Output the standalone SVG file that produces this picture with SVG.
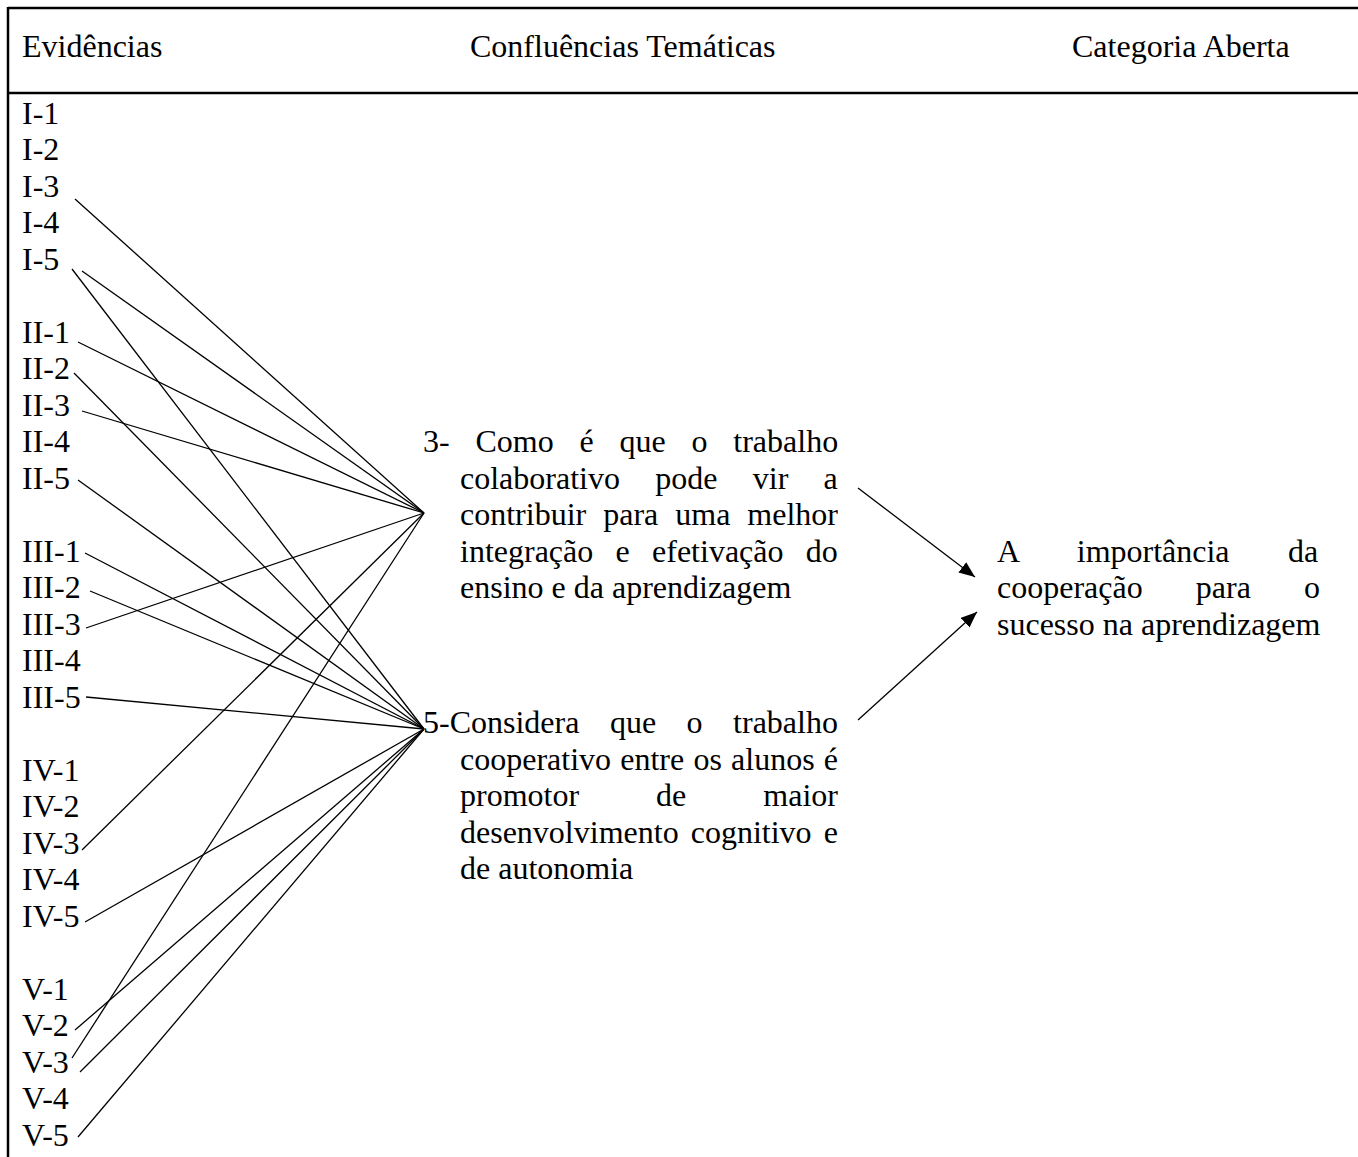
<svg xmlns="http://www.w3.org/2000/svg" width="1358" height="1157" viewBox="0 0 1358 1157">
<style>
text{font-family:"Liberation Serif","Times New Roman",serif;font-size:32px;fill:#000}
.frame{stroke:#000;stroke-width:2.5;fill:none}
.c{stroke:#000;stroke-width:1.3;fill:none}
.a{stroke:#000;stroke-width:1.3;fill:none;marker-end:url(#ah)}
</style>
<defs>
<marker id="ah" markerUnits="userSpaceOnUse" markerWidth="17" markerHeight="14" refX="16" refY="6.5" orient="auto">
<path d="M0,0 L16,6.5 L0,13 z" fill="#000"/>
</marker>
</defs>
<rect width="1358" height="1157" fill="#fff"/>
<g id="frame">
<line class="frame" x1="8" y1="8" x2="1358" y2="8"/>
<line class="frame" x1="8" y1="93" x2="1358" y2="93"/>
<line class="frame" x1="8" y1="7" x2="8" y2="1157"/>
</g>
<g id="header">
<text x="22" y="57">Evidências</text>
<text x="470" y="57">Confluências Temáticas</text>
<text x="1072" y="57">Categoria Aberta</text>
</g>
<g id="connectors">
<line class="c" x1="75" y1="199" x2="424" y2="513"/>
<line class="c" x1="82" y1="271" x2="424" y2="513"/>
<line class="c" x1="78" y1="342" x2="424" y2="513"/>
<line class="c" x1="82" y1="411" x2="424" y2="513"/>
<line class="c" x1="86" y1="628" x2="424" y2="513"/>
<line class="c" x1="82" y1="850" x2="424" y2="513"/>
<line class="c" x1="72" y1="1058" x2="424" y2="513"/>
<line class="c" x1="72" y1="269" x2="424" y2="729"/>
<line class="c" x1="74" y1="373" x2="424" y2="729"/>
<line class="c" x1="78" y1="480" x2="424" y2="729"/>
<line class="c" x1="85" y1="553" x2="424" y2="729"/>
<line class="c" x1="90" y1="591" x2="424" y2="729"/>
<line class="c" x1="86" y1="697" x2="424" y2="729"/>
<line class="c" x1="85" y1="922" x2="424" y2="729"/>
<line class="c" x1="75" y1="1030" x2="424" y2="729"/>
<line class="c" x1="80" y1="1072" x2="424" y2="729"/>
<line class="c" x1="78" y1="1137" x2="424" y2="729"/>
<line class="a" x1="858" y1="488" x2="975" y2="577"/>
<line class="a" x1="858" y1="720" x2="977" y2="612"/>
</g>
<g id="ev-I-1"><text x="22" y="123.5">I-1</text></g>
<g id="ev-I-2"><text x="22" y="160">I-2</text></g>
<g id="ev-I-3"><text x="22" y="196.5">I-3</text></g>
<g id="ev-I-4"><text x="22" y="233">I-4</text></g>
<g id="ev-I-5"><text x="22" y="269.5">I-5</text></g>
<g id="ev-II-1"><text x="22" y="342.5">II-1</text></g>
<g id="ev-II-2"><text x="22" y="379">II-2</text></g>
<g id="ev-II-3"><text x="22" y="415.5">II-3</text></g>
<g id="ev-II-4"><text x="22" y="452">II-4</text></g>
<g id="ev-II-5"><text x="22" y="488.5">II-5</text></g>
<g id="ev-III-1"><text x="22" y="561.5">III-1</text></g>
<g id="ev-III-2"><text x="22" y="598">III-2</text></g>
<g id="ev-III-3"><text x="22" y="634.5">III-3</text></g>
<g id="ev-III-4"><text x="22" y="671">III-4</text></g>
<g id="ev-III-5"><text x="22" y="707.5">III-5</text></g>
<g id="ev-IV-1"><text x="22" y="780.5">IV-1</text></g>
<g id="ev-IV-2"><text x="22" y="817">IV-2</text></g>
<g id="ev-IV-3"><text x="22" y="853.5">IV-3</text></g>
<g id="ev-IV-4"><text x="22" y="890">IV-4</text></g>
<g id="ev-IV-5"><text x="22" y="926.5">IV-5</text></g>
<g id="ev-V-1"><text x="22" y="999.5">V-1</text></g>
<g id="ev-V-2"><text x="22" y="1036">V-2</text></g>
<g id="ev-V-3"><text x="22" y="1072.5">V-3</text></g>
<g id="ev-V-4"><text x="22" y="1109">V-4</text></g>
<g id="ev-V-5"><text x="22" y="1145.5">V-5</text></g>
<g id="tema-3">
<text x="423" y="452" word-spacing="17.8">3- Como é que o trabalho</text>
<text x="460" y="488.5" word-spacing="27.3">colaborativo pode vir a</text>
<text x="460" y="525" word-spacing="9">contribuir para uma melhor</text>
<text x="460" y="561.5" word-spacing="14.3">integração e efetivação do</text>
<text x="460" y="598">ensino e da aprendizagem</text>
</g>
<g id="tema-5">
<text x="423" y="733" word-spacing="22.5">5-Considera que o trabalho</text>
<text x="460" y="769.5" word-spacing="1.2">cooperativo entre os alunos é</text>
<text x="460" y="806" word-spacing="69">promotor de maior</text>
<text x="460" y="842.5" word-spacing="4.1">desenvolvimento cognitivo e</text>
<text x="460" y="879">de autonomia</text>
</g>
<g id="categoria">
<text x="997" y="561.5" word-spacing="50.4">A importância da</text>
<text x="997" y="598" word-spacing="45.1">cooperação para o</text>
<text x="997" y="634.5">sucesso na aprendizagem</text>
</g>
</svg>
